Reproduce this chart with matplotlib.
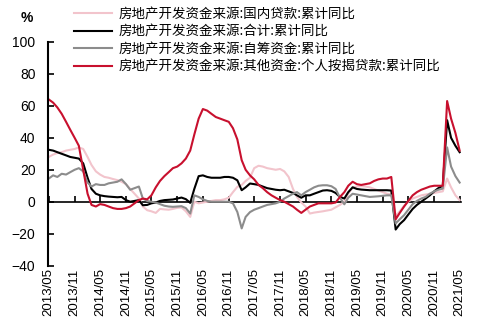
import numpy as np
import pandas as pd
import matplotlib
matplotlib.use('Agg')
import matplotlib.pyplot as plt

plt.rcParams['font.family'] = ['Liberation Sans', 'Noto Sans CJK SC', 'DejaVu Sans']

months = pd.date_range('2013-05-01', '2021-05-01', freq='MS')

# 累计同比, %
domestic_loans = [28, 29.5, 30.5, 31, 32, 32.5, 33, 34, 33, 28, 23, 19, 17, 15.5, 15, 14.2, 13.5, 12.5, 11, 8,
                  5, 2, -3, -5.3, -6, -7, -4.5, -4.8, -5, -4.5, -3.8, -3.6, -6, -9.5, 0, -1, -0.5, 0, 0.5, 1,
                  1, 1.5, 2.5, 6, 9.3, 10.5, 13, 15, 21, 22.5, 22, 21, 20.5, 20, 20.5, 19, 15.5, 8, 3, -0.5,
                  -3, -7.4, -6.8, -6.4, -6, -5.5, -5, -3.5, -2, 0, 5, 9, 9.5, 9.7, 9.5, 9, 8, 7, 6, 5,
                  4.5, -9, -6, -2.5, 0, 2, 3, 4, 4.5, 5, 5.5, 6, 6.5, 14.5, 9, 4, 1]
total = [32.5, 32, 31, 30, 29, 28, 27.5, 27, 24, 15, 8, 5, 4, 3.5, 3.2, 3, 2.8, 3, 1, 0,
         0.5, 1, -2.2, -2, -1, -0.5, 0.5, 1, 1.2, 1.4, 2, 2.6, 1.6, -0.7, 8, 16, 16.5, 15.5, 15, 15,
         15, 15.5, 15.5, 15, 13.4, 7.2, 9, 11.4, 11, 10.5, 9.5, 8.5, 8, 7.5, 7.2, 7.5, 6.5, 5.5, 4, 2.5,
         4, 4, 5, 6, 7, 7.2, 6.8, 5.5, 3, 2, 6, 9, 8, 7.6, 7.4, 7.2, 7.2, 7.2, 7.2, 7.2,
         7, -17.4, -14, -11.5, -8, -4.5, -2, 0, 2, 4, 6.5, 8.5, 10, 51, 40, 35, 31]
self_raised = [14.5, 16.5, 15.5, 17.5, 17, 18.5, 20, 21, 19, 12, 9.5, 11, 10.5, 10.5, 11.5, 12, 12.5, 14, 11, 7.5,
               8.5, 9.5, 2, 0.5, 0, -0.5, -1.5, -2.5, -3, -3.2, -3, -2.8, -4, -7.4, 4, 3, 1.5, 0.5, 0, 0,
               0, 0, 0, -1, -6.4, -16.7, -9.5, -6.5, -5, -4, -3, -2, -1.5, -1, 0, 2, 3.5, 5, 6, 4,
               6, 7.5, 9, 10, 10.3, 10.3, 9.7, 8, 2.5, -1.6, 2.5, 5, 4.5, 4, 3.5, 3, 3.2, 3.4, 3.7, 4,
               4, -13.6, -11, -8.4, -5, -1.5, 0.5, 2, 3, 5, 6.5, 7.5, 8.2, 34, 22, 16, 12]
mortgage = [64, 62, 59, 55, 50, 45, 40, 35, 20, 5, -2, -3, -1.5, -2, -3, -4, -4.5, -4.5, -4, -3,
            -1, 1, 2, 1.5, 4, 9, 13, 16, 18.5, 21, 22, 24, 27, 32, 42, 52, 58, 57, 55, 53,
            52, 51, 50, 46, 39, 26, 20, 16.5, 14, 10.5, 8.5, 6, 4, 2.5, 1, 0, -1.5, -3, -5, -7,
            -5, -3, -2, -1, -1, -1, -1, -0.5, 3, 6, 10, 12.5, 11, 10.5, 11, 11.5, 13, 14, 14.5, 14.5,
            15.5, -11, -7, -3, 0.5, 4, 6, 7.5, 8.5, 9.5, 10, 10, 10, 63, 52, 43, 32]

names = ['房地产开发资金来源:国内贷款:累计同比',
         '房地产开发资金来源:合计:累计同比',
         '房地产开发资金来源:自筹资金:累计同比',
         '房地产开发资金来源:其他资金:个人按揭贷款:累计同比']
colors = ['#F2C4CC', '#000000', '#8C8C8C', '#C8102E']
yticks = [-40, -20, 0, 20, 40, 60, 80, 100]

fig = plt.figure(figsize=(4.84, 3.30), dpi=100)
ax = fig.add_axes([0.099, 0.195, 0.853, 0.678])

series = [domestic_loans, total, self_raised, mortgage]
for vals, name, c in zip(series, names, colors):
    ax.plot(months, vals, color=c, lw=1.5, label=name)

ax.set_ylim(-40, 100)
ax.set_yticks(yticks)
ax.set_xlim(months[0] - pd.Timedelta(days=6), months[-1] + pd.Timedelta(days=8))
tick_dates = months[::6]
ax.set_xticks(tick_dates)
ax.set_xticklabels([d.strftime('%Y/%m') for d in tick_dates], rotation=90, fontsize=9.5)
ax.tick_params(axis='x', length=0, pad=2)
ax.tick_params(axis='y', direction='in', length=4, width=1.2, labelsize=10, pad=9)

for s in ['top', 'right', 'bottom']:
    ax.spines[s].set_visible(False)
ax.spines['left'].set_linewidth(1.5)

# zero line carries the half-year tick marks
zero = ax.secondary_xaxis(40 / 140)
zero.set_xticks(tick_dates)
zero.set_xticklabels([])
zero.tick_params(direction='in', length=4, width=1.2)
zero.spines['bottom'].set_linewidth(1.2)

fig.text(0.055, 0.945, '%', fontsize=10, fontweight='bold', ha='center', va='center')

fig.legend(loc='upper left', bbox_to_anchor=(0.128, 1.015), frameon=False,
           handlelength=2.85, labelspacing=0.26, handletextpad=0.45,
           prop={'family': ['Noto Sans CJK SC', 'DejaVu Sans'], 'size': 9.7})

fig.savefig('out.png', dpi=100)
